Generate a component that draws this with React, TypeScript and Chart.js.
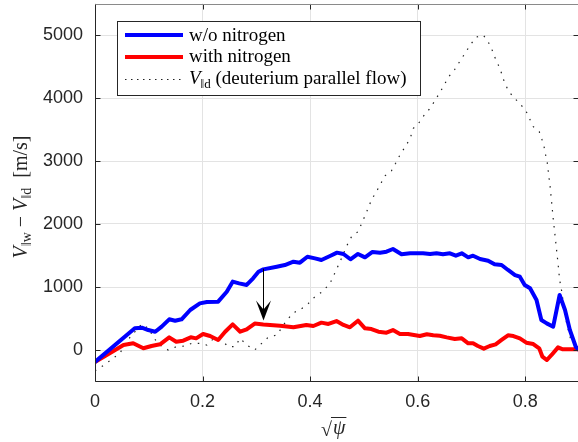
import React, { useEffect, useRef } from "react";
import { Chart, registerables } from "chart.js";
Chart.register(...registerables);

// ---- data ----
const blueX = [0, 0.074, 0.087, 0.099, 0.112, 0.124, 0.138, 0.149, 0.161, 0.177, 0.195, 0.208, 0.229, 0.245, 0.256, 0.268, 0.282, 0.294, 0.304, 0.313, 0.338, 0.353, 0.369, 0.381, 0.395, 0.409, 0.421, 0.437, 0.45, 0.462, 0.475, 0.489, 0.502, 0.516, 0.53, 0.542, 0.554, 0.57, 0.586, 0.601, 0.61, 0.623, 0.635, 0.647, 0.66, 0.671, 0.682, 0.694, 0.703, 0.716, 0.731, 0.743, 0.756, 0.768, 0.781, 0.79, 0.799, 0.809, 0.821, 0.83, 0.84, 0.852, 0.864, 0.874, 0.883, 0.894, 0.9];
const blueY = [-190, 344, 355, 317, 290, 370, 487, 465, 487, 635, 740, 762, 767, 925, 1085, 1057, 1032, 1138, 1243, 1280, 1322, 1349, 1402, 1386, 1481, 1455, 1429, 1492, 1545, 1524, 1440, 1524, 1471, 1556, 1545, 1561, 1603, 1519, 1535, 1535, 1535, 1524, 1535, 1519, 1535, 1497, 1535, 1471, 1497, 1444, 1418, 1360, 1349, 1270, 1190, 1163, 1032, 979, 794, 476, 423, 370, 873, 635, 317, 52, 0];

const redX = [0, 0.053, 0.071, 0.09, 0.105, 0.121, 0.138, 0.151, 0.164, 0.178, 0.188, 0.201, 0.214, 0.229, 0.242, 0.256, 0.27, 0.282, 0.297, 0.313, 0.344, 0.369, 0.393, 0.406, 0.421, 0.434, 0.449, 0.462, 0.474, 0.489, 0.502, 0.514, 0.527, 0.542, 0.554, 0.567, 0.582, 0.604, 0.617, 0.629, 0.641, 0.654, 0.669, 0.682, 0.694, 0.703, 0.712, 0.723, 0.734, 0.745, 0.756, 0.768, 0.778, 0.79, 0.802, 0.815, 0.826, 0.832, 0.84, 0.849, 0.861, 0.87, 0.9];
const redY = [-190, 79, 106, 27, 63, 90, 201, 132, 148, 201, 185, 254, 222, 159, 290, 407, 290, 327, 420, 405, 386, 360, 397, 381, 434, 413, 460, 397, 360, 465, 344, 333, 290, 275, 317, 254, 254, 222, 249, 233, 227, 201, 175, 185, 106, 106, 63, 21, 63, 90, 159, 233, 222, 185, 116, 95, 27, -106, -159, -79, 42, 11, 11];

const dotX = [0, 0.017, 0.031, 0.046, 0.065, 0.087, 0.101, 0.108, 0.121, 0.136, 0.151, 0.167, 0.18, 0.195, 0.208, 0.221, 0.235, 0.248, 0.26, 0.27, 0.282, 0.297, 0.31, 0.322, 0.338, 0.356, 0.369, 0.381, 0.397, 0.409, 0.423, 0.437, 0.45, 0.457, 0.469, 0.477, 0.489, 0.496, 0.504, 0.514, 0.522, 0.532, 0.537, 0.551, 0.559, 0.567, 0.579, 0.586, 0.592, 0.601, 0.61, 0.623, 0.632, 0.644, 0.658, 0.669, 0.678, 0.688, 0.697, 0.708, 0.722, 0.731, 0.738, 0.743, 0.75, 0.756, 0.761, 0.768, 0.778, 0.79, 0.802, 0.815, 0.826, 0.831, 0.835, 0.838, 0.841, 0.844, 0.846, 0.849, 0.852, 0.855, 0.858, 0.861, 0.864, 0.867, 0.875, 0.885, 0.9];
const dotY = [-330, -238, -148, -53, 201, 413, 333, 201, 79, 0, 52, 63, 106, 106, 79, 185, 159, 52, 52, 185, 79, 0, 106, 201, 238, 465, 592, 635, 740, 846, 926, 1058, 1296, 1429, 1667, 1799, 1878, 2011, 2169, 2381, 2497, 2646, 2751, 2841, 2963, 3095, 3254, 3360, 3519, 3587, 3704, 3836, 3957, 4127, 4339, 4455, 4577, 4709, 4831, 4963, 5000, 4894, 4772, 4656, 4524, 4392, 4259, 4127, 4011, 3915, 3783, 3545, 3466, 3344, 3228, 3095, 2973, 2751, 2619, 2354, 2090, 1852, 1614, 1376, 1111, 979, 500, 150, 0];

const xTicks = [0, 0.2, 0.4, 0.6, 0.8];
const yTicks = [0, 1000, 2000, 3000, 4000, 5000];
const legendLabels = ["w/o nitrogen", "with nitrogen", " (deuterium parallel flow)"];
const arrowX = 0.313;
const arrowFrom = 1290;
const arrowTo = 470;

const W = 581;
const H = 442;
const SERIF = '"Liberation Serif", "Times New Roman", serif';

type Seg = { t: string; f: string; dy?: number };

function drawRich(ctx: CanvasRenderingContext2D, segs: Seg[], x: number, y: number, align: "left" | "center") {
  let total = 0;
  const widths = segs.map((s) => {
    ctx.font = s.f;
    const w = ctx.measureText(s.t).width;
    total += w;
    return w;
  });
  let cx = align === "center" ? x - total / 2 : x;
  ctx.textAlign = "left";
  ctx.textBaseline = "alphabetic";
  segs.forEach((s, i) => {
    ctx.font = s.f;
    ctx.fillText(s.t, cx, y + (s.dy || 0));
    cx += widths[i];
  });
}

const customPlugin = {
  id: "customDecor",
  afterDraw(chart: any) {
    const { ctx, chartArea: a, scales } = chart;
    const xs = scales.x;
    const ys = scales.y;
    ctx.save();
    const L = Math.round(a.left) + 0.5;
    const R = Math.round(a.right) - 0.5;
    const T = Math.round(a.top) + 0.5;
    const B = Math.round(a.bottom) - 0.5;

    // inner ticks
    ctx.strokeStyle = "#262626";
    ctx.lineWidth = 1;
    ctx.beginPath();
    xTicks.forEach((v) => {
      const px = Math.round(xs.getPixelForValue(v)) + 0.5;
      ctx.moveTo(px, B);
      ctx.lineTo(px, B - 5);
      ctx.moveTo(px, T);
      ctx.lineTo(px, T + 5);
    });
    yTicks.forEach((v) => {
      const py = Math.round(ys.getPixelForValue(v)) + 0.5;
      ctx.moveTo(L, py);
      ctx.lineTo(L + 5, py);
      ctx.moveTo(R, py);
      ctx.lineTo(R - 5, py);
    });
    ctx.stroke();

    // box
    ctx.strokeStyle = "#262626";
    ctx.beginPath();
    ctx.moveTo(L, T);
    ctx.lineTo(L, B);
    ctx.lineTo(R, B);
    ctx.stroke();
    ctx.strokeStyle = "#8a8a8a";
    ctx.beginPath();
    ctx.moveTo(L, T);
    ctx.lineTo(R, T);
    ctx.lineTo(R, B);
    ctx.stroke();

    // arrow
    const ax = Math.round(xs.getPixelForValue(arrowX)) + 0.5;
    const ay0 = ys.getPixelForValue(arrowFrom);
    const ay1 = ys.getPixelForValue(arrowTo);
    ctx.strokeStyle = "#000";
    ctx.fillStyle = "#000";
    ctx.lineWidth = 1;
    ctx.beginPath();
    ctx.moveTo(ax, ay0);
    ctx.lineTo(ax, ay1 - 8);
    ctx.stroke();
    ctx.beginPath();
    ctx.moveTo(ax, ay1);
    ctx.lineTo(ax - 7.5, ay1 - 20);
    ctx.lineTo(ax, ay1 - 11);
    ctx.lineTo(ax + 7.5, ay1 - 20);
    ctx.closePath();
    ctx.fill();

    // legend
    const lx0 = 117.5, ly0 = 21.5, lx1 = 420.5, ly1 = 95.5;
    ctx.fillStyle = "#fff";
    ctx.fillRect(lx0, ly0, lx1 - lx0, ly1 - ly0);
    ctx.strokeStyle = "#262626";
    ctx.lineWidth = 1;
    ctx.strokeRect(lx0, ly0, lx1 - lx0, ly1 - ly0);
    const rows = [35, 57, 79.5];
    const styles = [
      { c: "#0000ff", w: 4, d: [] as number[] },
      { c: "#ff0000", w: 4, d: [] as number[] },
      { c: "#222", w: 1.2, d: [1.5, 4.5] },
    ];
    rows.forEach((ry, i) => {
      ctx.strokeStyle = styles[i].c;
      ctx.lineWidth = styles[i].w;
      ctx.setLineDash(styles[i].d);
      ctx.beginPath();
      ctx.moveTo(125, ry);
      ctx.lineTo(183, ry);
      ctx.stroke();
    });
    ctx.setLineDash([]);
    ctx.fillStyle = "#000";
    const f19 = `19px ${SERIF}`;
    drawRich(ctx, [{ t: legendLabels[0], f: f19 }], 189, 40.5, "left");
    drawRich(ctx, [{ t: legendLabels[1], f: f19 }], 189, 62, "left");
    drawRich(
      ctx,
      [
        { t: "V", f: `italic 19px ${SERIF}` },
        { t: "\u2016d", f: `13px ${SERIF}`, dy: 4 },
        { t: legendLabels[2], f: f19 },
      ],
      189,
      84,
      "left"
    );

    // y title
    ctx.save();
    ctx.translate(27, 197);
    ctx.rotate(-Math.PI / 2);
    ctx.fillStyle = "#262626";
    drawRich(
      ctx,
      [
        { t: "V", f: `italic 20px ${SERIF}` },
        { t: "\u2016w", f: `14px ${SERIF}`, dy: 4 },
        { t: " \u2212 ", f: `20px ${SERIF}` },
        { t: "V", f: `italic 20px ${SERIF}` },
        { t: "\u2016d", f: `14px ${SERIF}`, dy: 4 },
        { t: "  [m/s]", f: `20px ${SERIF}` },
      ],
      0,
      0,
      "center"
    );
    ctx.restore();

    // x title: sqrt(psi)
    ctx.fillStyle = "#262626";
    ctx.font = `20px ${SERIF}`;
    ctx.textAlign = "left";
    ctx.textBaseline = "alphabetic";
    ctx.fillText("\u221A", 321, 436);
    const sw = ctx.measureText("\u221A").width;
    ctx.font = `italic 20px ${SERIF}`;
    ctx.fillText("\u03C8", 321 + sw + 1, 434);
    const pw = ctx.measureText("\u03C8").width;
    ctx.strokeStyle = "#262626";
    ctx.lineWidth = 1;
    ctx.beginPath();
    ctx.moveTo(321 + sw - 1, 417.5);
    ctx.lineTo(321 + sw + pw + 2, 417.5);
    ctx.stroke();

    ctx.restore();
  },
};

function pts(xs: number[], ys: number[]) {
  return xs.map((x, i) => ({ x, y: ys[i] }));
}

export default function App() {
  const ref = useRef<HTMLCanvasElement>(null);
  useEffect(() => {
    if (!ref.current) return;
    const chart = new Chart(ref.current, {
      type: "line",
      data: {
        datasets: [
          { data: pts(blueX, blueY), borderColor: "#0000ff", borderWidth: 4, pointRadius: 0, tension: 0, fill: false, borderJoinStyle: "round" },
          { data: pts(redX, redY), borderColor: "#ff0000", borderWidth: 4, pointRadius: 0, tension: 0, fill: false, borderJoinStyle: "round" },
          { data: pts(dotX, dotY), borderColor: "#222", borderWidth: 1.2, borderDash: [1.5, 6.5], pointRadius: 0, tension: 0, fill: false },
        ],
      },
      options: {
        responsive: false,
        animation: false,
        devicePixelRatio: 1,
        layout: { padding: { left: 0, top: 3.5, right: 2, bottom: 0 } },
        plugins: { legend: { display: false }, tooltip: { enabled: false } },
        scales: {
          x: {
            type: "linear",
            min: 0,
            max: 0.9,
            afterBuildTicks: (s: any) => {
              s.ticks = xTicks.map((v) => ({ value: v }));
            },
            afterFit: (s: any) => {
              s.height = 60.5;
              s.paddingLeft = 0;
              s.paddingRight = 0;
            },
            grid: { color: "#e3e3e3", lineWidth: 1, drawTicks: false },
            border: { display: false },
            ticks: {
              padding: 10,
              color: "#262626",
              font: { family: "Liberation Sans", size: 18 },
              callback: (v: any) => String(v),
              maxRotation: 0,
            },
          },
          y: {
            type: "linear",
            min: -500,
            max: 5500,
            afterBuildTicks: (s: any) => {
              s.ticks = yTicks.map((v) => ({ value: v }));
            },
            afterFit: (s: any) => {
              s.width = 95;
              s.paddingTop = 0;
              s.paddingBottom = 0;
            },
            grid: { color: "#e3e3e3", lineWidth: 1, drawTicks: false },
            border: { display: false },
            ticks: {
              padding: 12,
              color: "#262626",
              font: { family: "Liberation Sans", size: 18 },
              callback: (v: any) => String(v),
            },
          },
        },
      },
      plugins: [customPlugin],
    });
    return () => chart.destroy();
  }, []);
  return (
    <div style={{ position: "fixed", left: 0, top: 0, width: 578, height: 442, overflow: "hidden", background: "#fff" }}>
      <canvas ref={ref} width={W} height={H} style={{ width: W, height: H, display: "block" }} />
    </div>
  );
}
